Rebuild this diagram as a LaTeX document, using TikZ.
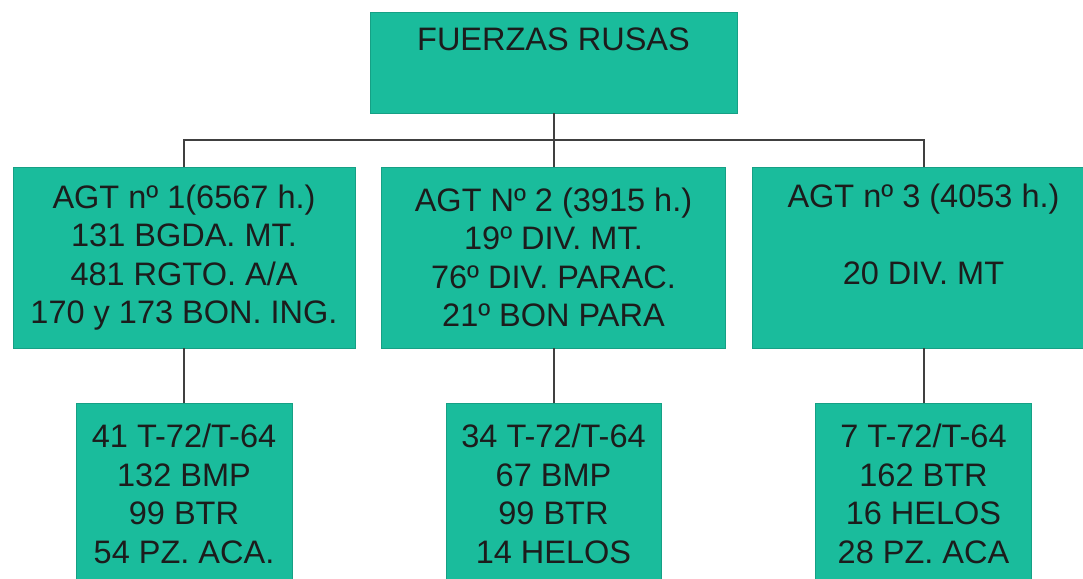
\documentclass[tikz,border=0pt]{standalone}
\usepackage{fontspec}
\setmainfont{Liberation Sans}
\definecolor{boxfill}{RGB}{26,188,156}
\definecolor{txt}{RGB}{28,28,28}
\definecolor{linec}{RGB}{64,64,64}
\begin{document}
\begin{tikzpicture}[x=1pt,y=-1pt,
  box/.style={rectangle,fill=boxfill,draw=boxfill!85!black,line width=0.4pt,inner sep=0pt,align=center,text=txt,
    font=\fontsize{32.5}{38.5}\selectfont},
  lbl/.style={inner sep=0pt,text=txt,font=\fontsize{32.5}{38.5}\selectfont},
  conn/.style={draw=linec,line width=2pt}]
\useasboundingbox (0,0) rectangle (1083,578);
\clip (0,0) rectangle (1083,578);
\fill[white] (0,0) rectangle (1083,578);
% top
\node[box,minimum width=367pt,minimum height=101pt] (top) at (553.5,62.5) {};
\node[lbl] (toptext) at (553.5,39) {FUERZAS RUSAS};
% middle row
\node[box,minimum width=342pt,minimum height=181pt] (m1) at (184,257.5)
  {AGT nº 1(6567 h.)\\131 BGDA. MT.\\481 RGTO. A/A\\170 y 173 BON. ING.};
\node[box,minimum width=344pt,minimum height=181pt] (m2) at (553.5,257.5)
  {AGT Nº 2 (3915 h.)\\19º DIV. MT.\\76º DIV. PARAC.\\21º BON PARA};
\node[box,minimum width=343pt,minimum height=181pt] (m3) at (923.5,257.5)
  {\strut AGT nº 3 (4053 h.)\\\strut\\\strut 20 DIV. MT\\\strut};
% bottom row
\node[box,minimum width=216pt,minimum height=182pt] (b1) at (184,494)
  {41 T-72/T-64\\132 BMP\\99 BTR\\54 PZ. ACA.};
\node[box,minimum width=215pt,minimum height=182pt] (b2) at (553.5,494)
  {34 T-72/T-64\\67 BMP\\99 BTR\\14 HELOS};
\node[box,minimum width=216pt,minimum height=182pt] (b3) at (923.5,494)
  {7 T-72/T-64\\162 BTR\\16 HELOS\\28 PZ. ACA};
% connectors
\coordinate (j) at (553.5,140);
\draw[conn] (top.south) -- (m2.north);
\draw[conn] (m1.north) |- (j) -| (m3.north);
\draw[conn] (m1.south) -- (b1.north);
\draw[conn] (m2.south) -- (b2.north);
\draw[conn] (m3.south) -- (b3.north);
\end{tikzpicture}
\end{document}
